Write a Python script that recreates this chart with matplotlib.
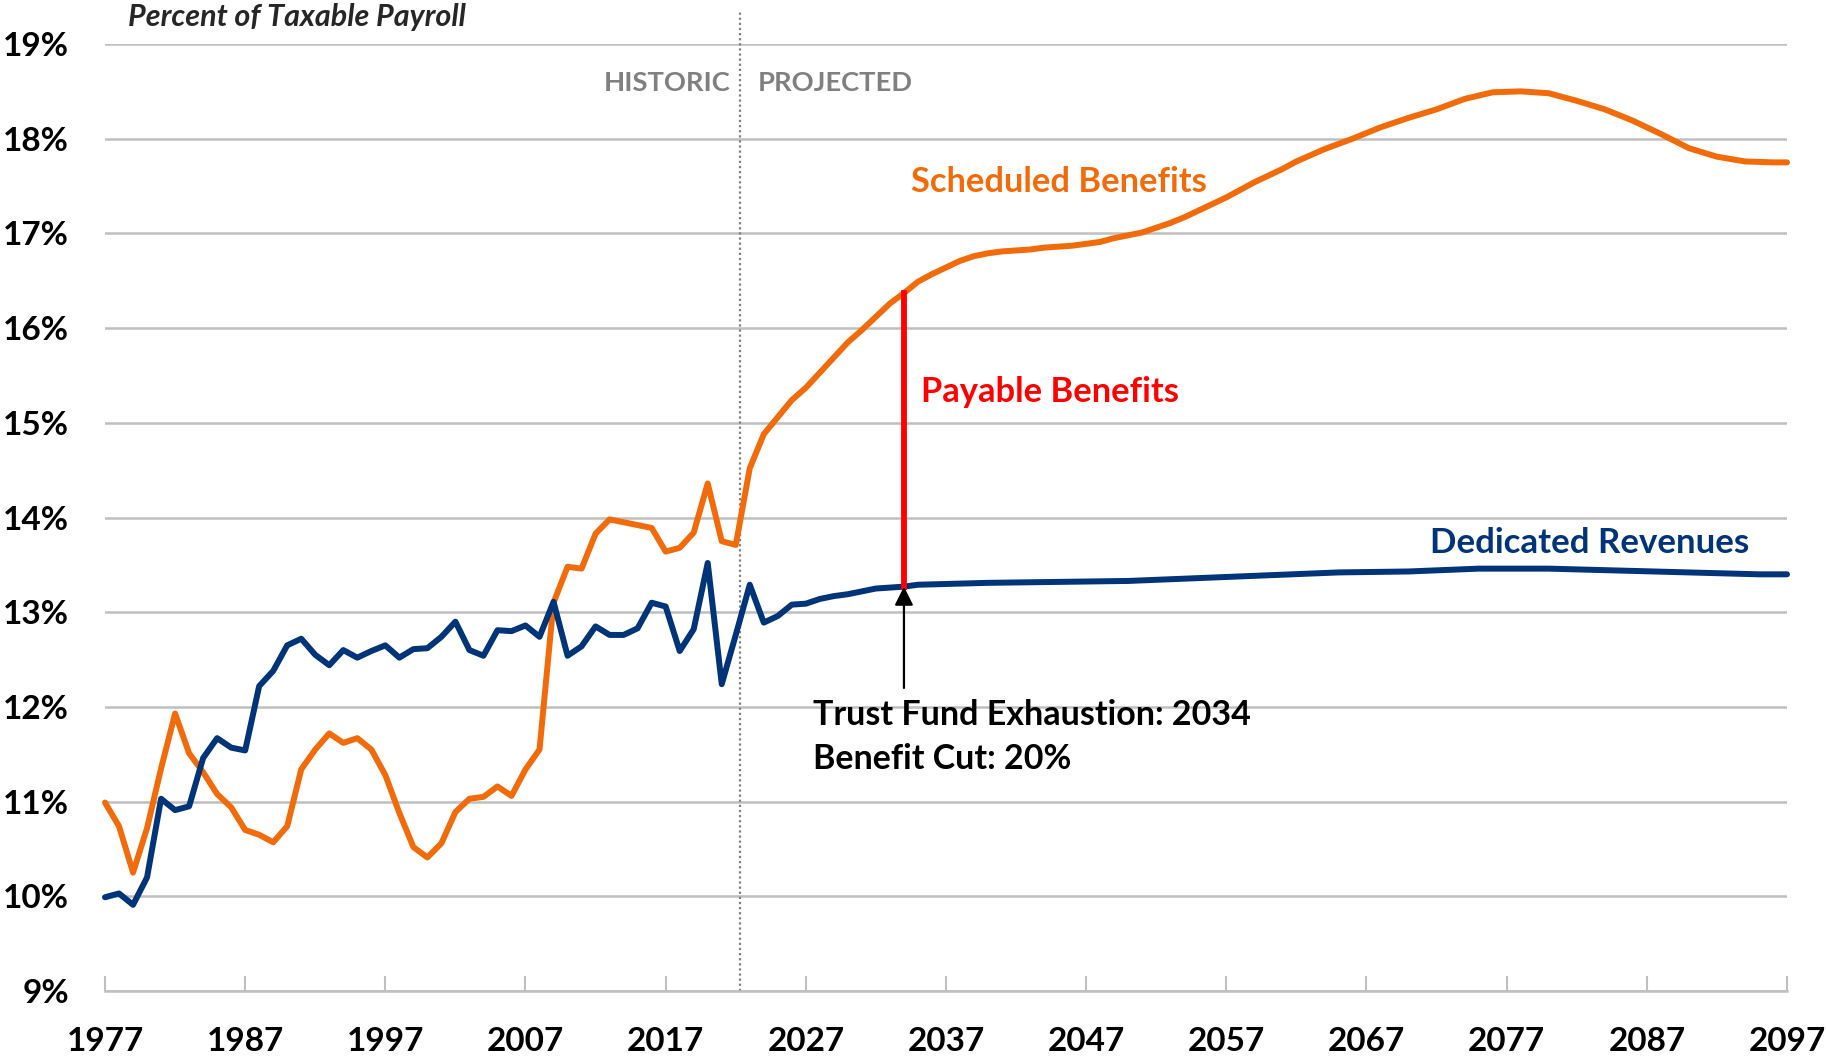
import matplotlib
matplotlib.use('Agg')
import matplotlib.pyplot as plt

plt.rcParams['font.family'] = ['Lato', 'DejaVu Sans']

# Scheduled benefits (percent of taxable payroll)
sched_years = list(range(1977, 2062)) + list(range(2062, 2097, 2)) + [2097]
sched_values = [
    10.99, 10.74, 10.25, 10.72, 11.35, 11.93, 11.51, 11.31, 11.08, 10.94,   # 1977-1986
    10.70, 10.65, 10.57, 10.74, 11.34, 11.55, 11.72, 11.62, 11.67, 11.55,   # 1987-1996
    11.28, 10.88, 10.52, 10.41, 10.56, 10.89, 11.03, 11.05, 11.16, 11.06,   # 1997-2006
    11.34, 11.55, 13.10, 13.48, 13.46, 13.83, 13.98, 13.95, 13.92, 13.89,   # 2007-2016
    13.64, 13.68, 13.84, 14.36, 13.75, 13.71, 14.52, 14.88, 15.06, 15.24,   # 2017-2026
    15.37, 15.53, 15.69, 15.85, 15.98, 16.12, 16.26, 16.37, 16.49, 16.57,   # 2027-2036
    16.64, 16.71, 16.76, 16.79, 16.81, 16.82, 16.83, 16.85, 16.86, 16.87,   # 2037-2046
    16.89, 16.91, 16.95, 16.98, 17.01, 17.06, 17.11, 17.17, 17.24, 17.31,   # 2047-2056
    17.38, 17.46, 17.54, 17.61, 17.68,                                      # 2057-2061
    17.76, 17.89, 18.00, 18.12, 18.22, 18.31, 18.42, 18.49, 18.50, 18.48,   # 2062-2080 (2-yr)
    18.40, 18.31, 18.19, 18.05, 17.90, 17.81, 17.76, 17.75,                 # 2082-2096
    17.75,                                                                  # 2097
]

# Dedicated revenues
rev_years = list(range(1977, 2036)) + list(range(2040, 2096, 5)) + [2097]
rev_values = [
    9.99, 10.03, 9.91, 10.20, 11.03, 10.91, 10.95, 11.46, 11.67, 11.57,     # 1977-1986
    11.54, 12.22, 12.38, 12.65, 12.72, 12.55, 12.44, 12.60, 12.52, 12.59,   # 1987-1996
    12.65, 12.52, 12.61, 12.62, 12.74, 12.90, 12.60, 12.54, 12.81, 12.80,   # 1997-2006
    12.86, 12.74, 13.11, 12.54, 12.64, 12.85, 12.76, 12.76, 12.83, 13.10,   # 2007-2016
    13.06, 12.59, 12.82, 13.52, 12.24, 12.76, 13.29, 12.89, 12.96, 13.08,   # 2017-2026
    13.09, 13.14, 13.17, 13.19, 13.22, 13.25, 13.26, 13.27, 13.29,          # 2027-2035
    13.31, 13.32, 13.33, 13.36, 13.39, 13.42, 13.43, 13.46, 13.46, 13.44,   # 2040-2085
    13.42, 13.40, 13.40,                                                    # 2090, 2095, 2097
]

x_ticks = list(range(1977, 2098, 10))
y_ticks = list(range(9, 20))
split_year = 2022.3
exhaustion_year = 2034

# sizes / colours
orange = '#F26B0A'
navy = '#003478'
grid_gray = '#BFBFBF'

fig = plt.figure(figsize=(18.26, 10.56), dpi=100)
ax = fig.add_axes([105 / 1826, 1 - 991 / 1056, 1682 / 1826, 947 / 1056])

ax.set_xlim(1977, 2097)
ax.set_ylim(9, 19)

ax.set_yticks(y_ticks)
ax.set_yticklabels([f'{v}%' for v in y_ticks], fontsize=24, fontweight='bold')
ax.set_xticks(x_ticks)
ax.set_xticklabels([str(v) for v in x_ticks], fontsize=24, fontweight='bold')
ax.tick_params(axis='y', length=0, pad=26)
ax.tick_params(axis='x', direction='in', length=11, width=1.5, color=grid_gray, pad=26)

for s in ['top', 'right', 'left']:
    ax.spines[s].set_visible(False)
ax.spines['bottom'].set_color(grid_gray)
ax.spines['bottom'].set_linewidth(1.8)

ax.grid(axis='y', color=grid_gray, linewidth=1.8, zorder=0)
ax.set_axisbelow(True)

# historic / projected divider
ax.plot([split_year, split_year], [9, 19.34], color='#808080', linestyle=(0, (1, 1.3)),
        linewidth=1.6, clip_on=False, zorder=1)
ax.text(split_year - 0.65, 18.59, 'HISTORIC', color='#808080', fontsize=19.7,
        fontweight='bold', ha='right', va='center')
ax.text(split_year + 1.3, 18.59, 'PROJECTED', color='#808080', fontsize=19.7,
        fontweight='bold', ha='left', va='center')

ax.plot(sched_years, sched_values, color=orange, linewidth=4.3, clip_on=False,
        solid_capstyle='round', zorder=3)
ax.plot(rev_years, rev_values, color=navy, linewidth=4.3, clip_on=False,
        solid_capstyle='round', zorder=3)

# payable benefits gap at trust fund exhaustion
top_val = sched_values[sched_years.index(exhaustion_year)]
bot_val = rev_values[rev_years.index(exhaustion_year)]
ax.plot([exhaustion_year, exhaustion_year], [bot_val, top_val], color='#FF0000',
        linewidth=4.2, zorder=4)
ax.annotate('', xy=(exhaustion_year, bot_val), xytext=(exhaustion_year, 12.2),
            arrowprops=dict(arrowstyle='-|>', color='black', lw=1.6,
                            mutation_scale=28, shrinkA=0, shrinkB=0), zorder=5)

ax.text(2034.5, 17.54, 'Scheduled Benefits', color=orange, fontsize=24.8,
        fontweight='bold', ha='left', va='center')
ax.text(2035.2, 15.33, 'Payable Benefits', color='#FF0000', fontsize=24.8,
        fontweight='bold', ha='left', va='center')
ax.text(2071.5, 13.73, 'Dedicated Revenues', color=navy, fontsize=25.1,
        fontweight='bold', ha='left', va='center')
ax.text(2027.5, 11.91, 'Trust Fund Exhaustion: 2034', color='black', fontsize=24.5,
        fontweight='bold', ha='left', va='center')
ax.text(2027.5, 11.45, 'Benefit Cut: 20%', color='black', fontsize=24.5,
        fontweight='bold', ha='left', va='center')

fig.text(128 / 1826, 1 - 17 / 1056, 'Percent of Taxable Payroll', color='#262626',
         fontsize=22, fontweight='bold', fontstyle='italic', ha='left', va='center')

fig.savefig('out.png', dpi=100)
